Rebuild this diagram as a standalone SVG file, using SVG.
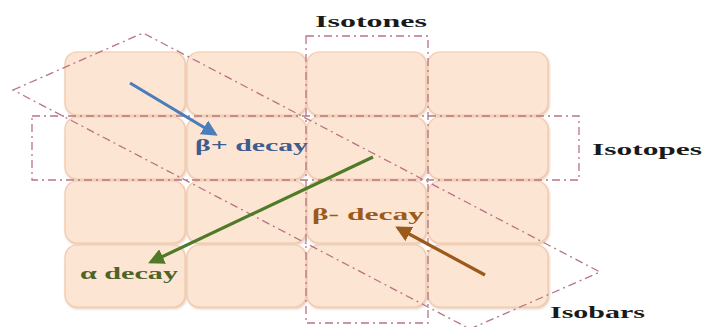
<svg xmlns="http://www.w3.org/2000/svg" width="704" height="327" viewBox="0 0 704 327">
<style>
.tile{fill:#fde5d3;stroke:#f2c9aa;stroke-width:1.2}
.frame{fill:none;stroke:#b87484;stroke-width:1.3;stroke-dasharray:8 4 2 4}
.lbl{font-family:"Liberation Serif","DejaVu Serif",serif;font-weight:bold;font-size:17px}
.blk{fill:#1a1a1a}
</style>
<defs>
<filter id="sh" x="-10%" y="-10%" width="130%" height="130%">
<feDropShadow dx="1" dy="1.5" stdDeviation="1.2" flood-color="#c89a7a" flood-opacity="0.5"/>
</filter>
<marker id="hb" viewBox="0 0 10 10" refX="8" refY="5" markerWidth="16" markerHeight="16" markerUnits="userSpaceOnUse" orient="auto"><path d="M0,0 L10,5 L0,10 z" fill="#4a7ebb"/></marker>
<marker id="hg" viewBox="0 0 10 10" refX="8" refY="5" markerWidth="16" markerHeight="16" markerUnits="userSpaceOnUse" orient="auto"><path d="M0,0 L10,5 L0,10 z" fill="#4f7a28"/></marker>
<marker id="hr" viewBox="0 0 10 10" refX="8" refY="5" markerWidth="16" markerHeight="16" markerUnits="userSpaceOnUse" orient="auto"><path d="M0,0 L10,5 L0,10 z" fill="#9b5a1c"/></marker>
</defs>
<rect width="704" height="327" fill="#ffffff"/>
<g id="tiles" filter="url(#sh)">
<g id="t11"><rect class="tile" x="65" y="52" width="120" height="63" rx="12"/></g>
<g id="t12"><rect class="tile" x="187" y="52" width="119" height="63" rx="12"/></g>
<g id="t13"><rect class="tile" x="307" y="52" width="119" height="63" rx="12"/></g>
<g id="t14"><rect class="tile" x="428" y="52" width="120" height="63" rx="12"/></g>
<g id="t21"><rect class="tile" x="65" y="117" width="120" height="62" rx="12"/></g>
<g id="t22"><rect class="tile" x="187" y="117" width="119" height="62" rx="12"/></g>
<g id="t23"><rect class="tile" x="307" y="117" width="119" height="62" rx="12"/></g>
<g id="t24"><rect class="tile" x="428" y="117" width="120" height="62" rx="12"/></g>
<g id="t31"><rect class="tile" x="65" y="181" width="120" height="62" rx="12"/></g>
<g id="t32"><rect class="tile" x="187" y="181" width="119" height="62" rx="12"/></g>
<g id="t33"><rect class="tile" x="307" y="181" width="119" height="62" rx="12"/></g>
<g id="t34"><rect class="tile" x="428" y="181" width="120" height="62" rx="12"/></g>
<g id="t41"><rect class="tile" x="65" y="245" width="120" height="62" rx="12"/></g>
<g id="t42"><rect class="tile" x="187" y="245" width="119" height="62" rx="12"/></g>
<g id="t43"><rect class="tile" x="307" y="245" width="119" height="62" rx="12"/></g>
<g id="t44"><rect class="tile" x="428" y="245" width="120" height="62" rx="12"/></g>
</g>
<g id="isotones"><rect class="frame" x="306" y="36" width="122" height="287"/>
<text class="lbl blk" x="315" y="27" textLength="112" lengthAdjust="spacingAndGlyphs">Isotones</text></g>
<g id="isotopes"><rect class="frame" x="32" y="116" width="547" height="64"/>
<text class="lbl blk" x="592" y="155" textLength="110" lengthAdjust="spacingAndGlyphs">Isotopes</text></g>
<g id="isobars"><polygon class="frame" points="13,90 143,33 600,272 470,329"/>
<text class="lbl blk" x="550" y="318" textLength="95" lengthAdjust="spacingAndGlyphs">Isobars</text></g>
<g id="connectors">
<line x1="130" y1="83" x2="215" y2="134" stroke="#4a7ebb" stroke-width="3.2" marker-end="url(#hb)"/>
<line x1="373" y1="157" x2="151" y2="262" stroke="#4f7a28" stroke-width="3.2" marker-end="url(#hg)"/>
<line x1="485" y1="275" x2="398" y2="228" stroke="#9b5a1c" stroke-width="3.2" marker-end="url(#hr)"/>
</g>
<g id="labels">
<text class="lbl" x="195" y="151" fill="#3d5c8f" textLength="113" lengthAdjust="spacingAndGlyphs">β+ decay</text>
<text class="lbl" x="312" y="220" fill="#9b5a1c" textLength="112" lengthAdjust="spacingAndGlyphs">β- decay</text>
<text class="lbl" x="80" y="279" fill="#4f6228" textLength="98" lengthAdjust="spacingAndGlyphs">α decay</text>
</g>
</svg>
